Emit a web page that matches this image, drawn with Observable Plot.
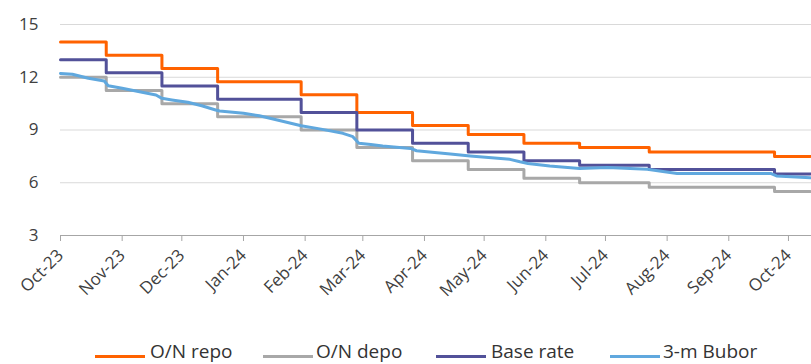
<!DOCTYPE html>
<html><head><meta charset="utf-8">
<script src="https://cdn.jsdelivr.net/npm/d3@7"></script>
<script src="https://cdn.jsdelivr.net/npm/@observablehq/plot@0.6"></script>
<style>
body{margin:0;background:#fff;font-family:"Open Sans",sans-serif;}
#wrap{position:relative;width:811px;height:364px;overflow:hidden;}
#legend{position:absolute;left:0;top:0;width:811px;height:364px;pointer-events:none;}
.sw{position:absolute;top:355px;width:50px;height:3px;}
.lab{position:absolute;top:341px;height:20px;line-height:20px;font-size:19px;color:#333;white-space:nowrap;}
</style></head><body>
<div id="wrap"><div id="chart"></div><div id="legend"></div></div>
<script>
// Policy decision dates (step changes) and rate levels
const policyDates = ["2023-10-01","2023-10-24","2023-11-21","2023-12-19","2024-01-30","2024-02-27","2024-03-26","2024-04-23","2024-05-21","2024-06-18","2024-07-23","2024-09-24","2024-10-12"];
const onRepo  = [14, 13.25, 12.5, 11.75, 11, 10, 9.25, 8.75, 8.25, 8, 7.75, 7.5, 7.5];
const onDepo  = [12, 11.25, 10.5, 9.75, 9, 8, 7.25, 6.75, 6.25, 6, 5.75, 5.5, 5.5];
const baseRate = [13, 12.25, 11.5, 10.75, 10, 9, 8.25, 7.75, 7.25, 7, 6.75, 6.5, 6.5];
// 3-month BUBOR
const buborDates = ["2023-10-01","2023-10-07","2023-10-15","2023-10-23","2023-10-25","2023-11-01","2023-11-11","2023-11-18","2023-11-21","2023-11-26","2023-12-04","2023-12-11","2023-12-18","2023-12-20","2024-01-01","2024-01-09","2024-01-18","2024-01-30","2024-02-09","2024-02-20","2024-02-25","2024-02-28","2024-03-05","2024-03-11","2024-03-25","2024-03-28","2024-04-14","2024-04-24","2024-05-14","2024-05-19","2024-05-23","2024-06-03","2024-06-18","2024-07-02","2024-07-22","2024-07-29","2024-08-06","2024-08-26","2024-09-22","2024-09-25","2024-10-12"];
const buborValues = [12.22,12.17,11.94,11.79,11.52,11.37,11.15,10.99,10.80,10.71,10.58,10.38,10.14,10.08,9.95,9.81,9.57,9.24,9.05,8.81,8.62,8.24,8.18,8.09,7.95,7.82,7.63,7.52,7.33,7.19,7.10,6.95,6.81,6.87,6.77,6.66,6.53,6.53,6.53,6.39,6.28];
const monthTicks = ["2023-10-01","2023-11-01","2023-12-01","2024-01-01","2024-02-01","2024-03-01","2024-04-01","2024-05-01","2024-06-01","2024-07-01","2024-08-01","2024-09-01","2024-10-01"];
const yTicks = [3, 6, 9, 12, 15];
const series = [
  {name: "O/N repo", values: onRepo, color: "#ff6200"},
  {name: "O/N depo", values: onDepo, color: "#a8a8a8"},
  {name: "Base rate", values: baseRate, color: "#525199"},
  {name: "3-m Bubor", color: "#60a8de"}
];

const d = s => new Date(s + "T00:00:00Z");
const stepRows = s => policyDates.map((t, i) => ({date: d(t), value: s.values[i]}));
const bubor = buborDates.map((t, i) => ({date: d(t), value: buborValues[i]}));

const chart = Plot.plot({
  width: 811, height: 300,
  marginLeft: 60, marginRight: 0, marginTop: 24, marginBottom: 65,
  style: {fontFamily: "'Open Sans', sans-serif", fontSize: "17px", color: "#404040", background: "#fff"},
  x: {type: "utc", domain: [d("2023-10-01"), new Date(Date.UTC(2024, 9, 12, 14))]},
  y: {domain: [3, 15]},
  marks: [
    Plot.gridY([6, 9, 12, 15], {stroke: "#d9d9d9", strokeOpacity: 1}),
    Plot.ruleY([3], {stroke: "#a6a6a6", strokeWidth: 1.2}),
    Plot.axisY({ticks: yTicks, tickSize: 0, tickPadding: 22, label: null, fill: "#404040"}),
    Plot.axisX({ticks: monthTicks.map(d), tickFormat: d3.utcFormat("%b-%y"), tickRotate: -45, tickSize: 6, tickPadding: 11, stroke: "#a6a6a6", fill: "#404040", label: null}),
    ...series.slice(0, 3).map(s => Plot.line(stepRows(s), {x: "date", y: "value", curve: "step-after", stroke: s.color, strokeWidth: 3})),
    Plot.line(bubor, {x: "date", y: "value", stroke: series[3].color, strokeWidth: 3})
  ]
});
document.getElementById("chart").appendChild(chart);

const swLefts = [95, 263, 436, 610];
const labLefts = [150, 316, 491, 663];
const leg = document.getElementById("legend");
series.forEach((s, i) => {
  const sw = document.createElement("div");
  sw.className = "sw";
  sw.style.left = swLefts[i] + "px";
  sw.style.background = s.color;
  leg.appendChild(sw);
  const lab = document.createElement("div");
  lab.className = "lab";
  lab.style.left = labLefts[i] + "px";
  lab.textContent = s.name;
  leg.appendChild(lab);
});
</script>
</body></html>
